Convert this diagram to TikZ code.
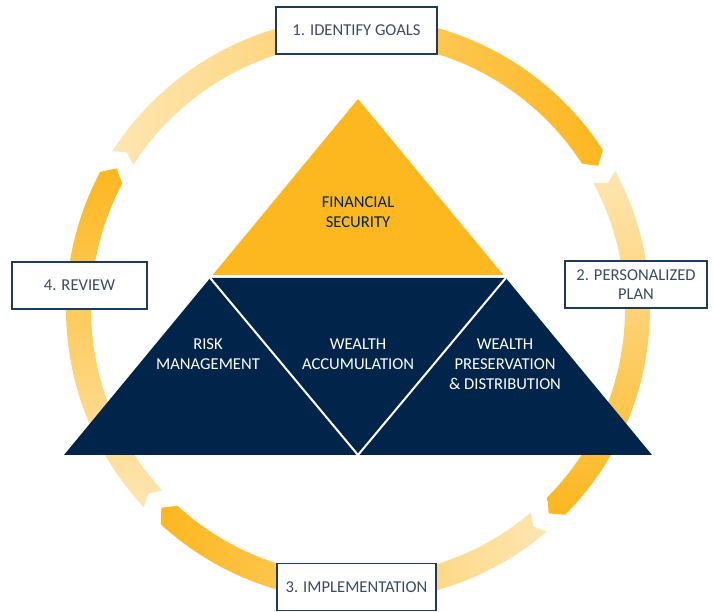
\documentclass[tikz,border=0pt]{standalone}
\usepackage{fontspec}
\setmainfont{Carlito}
\usetikzlibrary{positioning,calc}

\definecolor{navy}{HTML}{00244A}
\definecolor{gold}{HTML}{FDB71F}
\definecolor{paleGold}{HTML}{FEE6B2}
\definecolor{boxLine}{HTML}{1F3A5C}
\definecolor{boxText}{HTML}{3A4B62}

% one ring segment: #1 shading, #2 tail angle, #3 head angle (clockwise)
\newcommand{\ringArrow}[3]{%
  \shade[#1] (#2:292) -- ({#2-1.4}:279.5) -- (#2:267)
    arc[start angle=#2, end angle=#3, radius=267]
    -- ({#3-2.2}:279.5) -- (#3:292)
    arc[start angle=#3, end angle=#2, radius=292] -- cycle;}

\begin{document}
\begin{tikzpicture}[x=1pt,y=1pt,
    stage/.style={draw=boxLine, line width=1.3pt, fill=white, text=boxText,
      font=\fontsize{16.6}{19.6}\selectfont, align=center, inner sep=0pt,
      minimum height=47pt},
    tritext/.style={font=\fontsize{16.6}{20}\selectfont, align=center}]
  \useasboundingbox (-358,309) rectangle (355,-303);

  % cycle ring
  \ringArrow{left color=paleGold, right color=gold}{147.3}{33}
  \ringArrow{top color=paleGold, bottom color=gold}{28.2}{-44.8}
  \ringArrow{right color=paleGold, left color=gold}{-49.7}{-132.5}
  \ringArrow{bottom color=paleGold, top color=gold}{222.8}{152}

  % pyramid
  \coordinate (apex) at (0,210);
  \coordinate (tl) at (-147.8,31);
  \coordinate (tr) at (147.8,31);
  \coordinate (bl) at (-294,-146);
  \coordinate (br) at (294,-146);
  \coordinate (bm) at (0,-146);

  \fill[gold] (apex) -- (-145.3,34) -- (145.3,34) -- cycle;
  \fill[navy] (tl) -- (tr) -- (br) -- (bl) -- cycle;
  \draw[white, line width=2pt] (tl) -- (bm) -- (tr);

  \node[tritext, text=navy] (fin) at (0,96.5) {FINANCIAL\\SECURITY};
  \node[tritext, text=white] (risk) at (-150,-45.5) {RISK\\MANAGEMENT};
  \node[tritext, text=white] (accu) at (0,-45.5) {WEALTH\\ACCUMULATION};
  \node[tritext, text=white] (pres) at (147,-55) {WEALTH\\PRESERVATION\\\& DISTRIBUTION};

  % stage boxes
  \node[stage, minimum width=161pt] (goals) at (-1.5,278.5) {1. IDENTIFY GOALS};
  \node[stage, minimum width=142pt] (plan) at (278,24.5) {2. PERSONALIZED\\PLAN};
  \node[stage, minimum width=159pt] (impl) at (-1.5,-278) {3. IMPLEMENTATION};
  \node[stage, minimum width=135pt] (review) at (-278.5,23.5) {4. REVIEW};
\end{tikzpicture}
\end{document}
